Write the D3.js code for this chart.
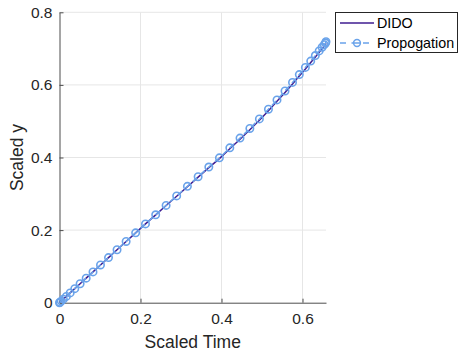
<!DOCTYPE html>
<html><head><meta charset="utf-8">
<script src="https://cdn.jsdelivr.net/npm/d3@7"></script>
<style>body{margin:0;background:#fff;}svg{display:block;font-family:"Liberation Sans",Arial,Helvetica,sans-serif;}</style>
</head><body>
<script>
const time = [0,0.0011,0.0043,0.0096,0.0169,0.0263,0.0377,0.0509,0.0659,0.0827,0.1012,0.1210,0.1421,0.1645,0.1880,0.2123,0.2375,0.2632,0.2893,0.3158,0.3423,0.3687,0.3948,0.4205,0.4457,0.4700,0.4935,0.5159,0.5370,0.5568,0.5753,0.5921,0.6071,0.6203,0.6317,0.6411,0.6484,0.6537,0.6569,0.6580];
const propY = [0,0.0011,0.0044,0.0098,0.0173,0.0270,0.0387,0.0522,0.0676,0.0849,0.1040,0.1243,0.1459,0.1687,0.1925,0.2170,0.2422,0.2680,0.2941,0.3205,0.3471,0.3737,0.3990,0.4266,0.4534,0.4800,0.5063,0.5330,0.5587,0.5833,0.6068,0.6284,0.6481,0.6656,0.6809,0.6936,0.7036,0.7109,0.7153,0.7190];
const didoY = [0,0.0011,0.0044,0.0098,0.0173,0.0270,0.0387,0.0522,0.0676,0.0849,0.1040,0.1243,0.1459,0.1687,0.1925,0.2170,0.2420,0.2676,0.2934,0.3195,0.3458,0.3720,0.3970,0.4240,0.4502,0.4764,0.5025,0.5290,0.5547,0.5793,0.6028,0.6244,0.6441,0.6616,0.6769,0.6896,0.6996,0.7069,0.7113,0.7150];
const xTicks = [0,0.2,0.4,0.6];
const yTicks = [0,0.2,0.4,0.6,0.8];
const seriesNames = ["DIDO","Propogation"];

const W=459,H=356;
const m={l:59.5,r:326,t:12.3,b:302.7};
const svg=d3.select("body").append("svg").attr("width",W).attr("height",H);
const x=d3.scaleLinear().domain([0,0.658]).range([m.l,m.r]);
const y=d3.scaleLinear().domain([0,0.8]).range([m.b,m.t]);

// grid
svg.append("g").selectAll("line").data(xTicks.filter(d=>d>0)).join("line")
  .attr("x1",d=>x(d)).attr("x2",d=>x(d)).attr("y1",m.t).attr("y2",m.b)
  .attr("stroke","#e6e6e6").attr("stroke-width",1);
svg.append("g").selectAll("line").data(yTicks.filter(d=>d>0)).join("line")
  .attr("y1",d=>y(d)).attr("y2",d=>y(d)).attr("x1",m.l).attr("x2",m.r)
  .attr("stroke","#e6e6e6").attr("stroke-width",1);

// axes
const xAxis=svg.append("g").attr("transform",`translate(0,${m.b})`)
  .call(d3.axisBottom(x).tickValues(xTicks).tickFormat(d=>d===0?"0":d3.format(".1f")(d)).tickSizeInner(-4).tickSizeOuter(0).tickPadding(10));
const yAxis=svg.append("g").attr("transform",`translate(${m.l},0)`)
  .call(d3.axisLeft(y).tickValues(yTicks).tickFormat(d=>d===0?"0":d3.format(".1f")(d)).tickSizeInner(-4).tickSizeOuter(0).tickPadding(7));
[xAxis,yAxis].forEach(a=>{
  a.select(".domain").attr("stroke","#4d4d4d").attr("stroke-width",1);
  a.selectAll(".tick line").attr("stroke","#4d4d4d");
  a.selectAll("text").attr("fill","#262626").attr("font-size",15.5).attr("font-family","Liberation Sans, Arial, sans-serif");
});

// labels
svg.append("text").attr("x",(m.l+m.r)/2).attr("y",348).attr("text-anchor","middle")
  .attr("font-size",17.5).attr("fill","#262626").text("Scaled Time");
svg.append("text").attr("transform",`translate(23,${(m.t+m.b)/2}) rotate(-90)`).attr("text-anchor","middle")
  .attr("font-size",17.5).attr("fill","#262626").text("Scaled y");

const didoColor="#3f1c91", propColor="#6aa3ea";
const line=d3.line().x(d=>x(d[0])).y(d=>y(d[1]));
svg.append("path").datum(time.map((t,i)=>[t,didoY[i]])).attr("d",line)
  .attr("fill","none").attr("stroke",didoColor).attr("stroke-width",1.5);
svg.append("path").datum(time.map((t,i)=>[t,propY[i]])).attr("d",line)
  .attr("fill","none").attr("stroke",propColor).attr("stroke-width",1.5).attr("stroke-dasharray","6,4");
svg.append("g").selectAll("circle").data(time.map((t,i)=>[t,propY[i]])).join("circle")
  .attr("cx",d=>x(d[0])).attr("cy",d=>y(d[1])).attr("r",3.7)
  .attr("fill","none").attr("stroke",propColor).attr("stroke-width",1.6);

// legend
const lg=svg.append("g");
lg.append("rect").attr("x",335.5).attr("y",12.5).attr("width",122).attr("height",40)
  .attr("fill","#fff").attr("stroke","#262626").attr("stroke-width",1);
lg.append("line").attr("x1",340).attr("x2",374).attr("y1",23).attr("y2",23).attr("stroke",didoColor).attr("stroke-width",1.5);
lg.append("line").attr("x1",340).attr("x2",374).attr("y1",43).attr("y2",43).attr("stroke",propColor).attr("stroke-width",1.5).attr("stroke-dasharray","6,5.5");
lg.append("circle").attr("cx",357).attr("cy",43).attr("r",3.4).attr("fill","#fff").attr("stroke",propColor).attr("stroke-width",1.5);
lg.append("line").attr("x1",353.6).attr("x2",360.4).attr("y1",43).attr("y2",43).attr("stroke",propColor).attr("stroke-width",1.5);
lg.selectAll("text.l").data(seriesNames).join("text").attr("class","l")
  .attr("x",377).attr("y",(d,i)=>23+i*20).attr("dy","0.35em").attr("font-size",14.3).attr("fill","#000").text(d=>d);
</script>
</body></html>
